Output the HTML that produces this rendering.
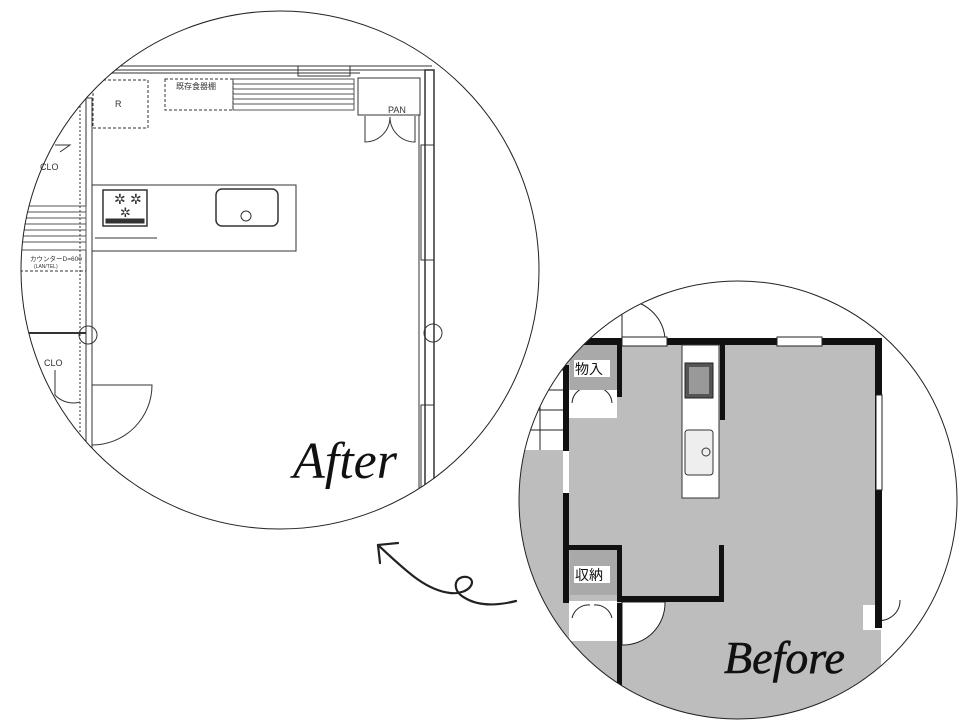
<!DOCTYPE html>
<html><head><meta charset="utf-8"><style>html,body{margin:0;padding:0;background:#fff}svg{display:block}</style></head>
<body>
<svg width="960" height="720" viewBox="0 0 960 720" xmlns="http://www.w3.org/2000/svg">
<defs>
<clipPath id="ca"><circle cx="280" cy="270" r="259"/></clipPath>
<clipPath id="cb"><circle cx="738" cy="500" r="219"/></clipPath>
</defs>

<!-- AFTER -->
<g clip-path="url(#ca)" stroke="#333" fill="none" stroke-width="1">
  <line x1="100" y1="66" x2="432" y2="66"/><line x1="100" y1="70" x2="432" y2="70"/><line x1="100" y1="73" x2="360" y2="73"/>
  <rect x="298" y="66" width="52" height="10"/>
  <rect x="425" y="70" width="9" height="470" stroke-width="1.5"/>
  <line x1="419" y1="115" x2="419" y2="540"/>
  <rect x="421" y="145" width="13" height="115"/><rect x="421" y="405" width="13" height="120"/>
  <circle cx="433" cy="333" r="9"/><circle cx="88" cy="335" r="9"/>
  <g stroke="#555">
  <rect x="233" y="79" width="121" height="31"/>
  <line x1="233" y1="84" x2="354" y2="84"/><line x1="233" y1="89" x2="354" y2="89"/><line x1="233" y1="94" x2="354" y2="94"/><line x1="233" y1="99" x2="354" y2="99"/><line x1="233" y1="104" x2="354" y2="104"/>
  </g>
  <rect x="165" y="79" width="68" height="31" stroke-dasharray="3,2"/>
  <rect x="93" y="80" width="55" height="48" stroke-dasharray="3,2"/>
  <rect x="358" y="78" width="62" height="37"/>
  <line x1="360" y1="115" x2="420" y2="115" stroke-dasharray="4,2"/>
  <path d="M365 116 V142 A25 25 0 0 0 390 117 M415 116 V142 A25 25 0 0 1 390 117"/>
  <rect x="86" y="98" width="6" height="440"/>
  <line x1="80" y1="98" x2="80" y2="540" stroke-dasharray="2,2"/>
  <rect x="92" y="185" width="204" height="66"/>
  <rect x="103" y="190" width="44" height="36" stroke-width="1.5"/>
  <rect x="106" y="219" width="38" height="4" fill="#333"/>
  <text x="114" y="204" font-size="14" fill="#333" stroke="none" font-family="DejaVu Sans">✲</text>
  <text x="130" y="204" font-size="14" fill="#333" stroke="none" font-family="DejaVu Sans">✲</text>
  <text x="120" y="217" font-size="13" fill="#333" stroke="none" font-family="DejaVu Sans">✲</text>
  <rect x="216" y="189" width="62" height="37" rx="6" stroke-width="1.5"/>
  <circle cx="246" cy="216" r="5"/>
  <line x1="95" y1="238" x2="157" y2="238"/>
  <g stroke="#555"><rect x="20" y="206" width="66" height="44"/>
  <line x1="20" y1="212" x2="86" y2="212"/><line x1="20" y1="218" x2="86" y2="218"/><line x1="20" y1="224" x2="86" y2="224"/><line x1="20" y1="230" x2="86" y2="230"/><line x1="20" y1="236" x2="86" y2="236"/><line x1="20" y1="242" x2="86" y2="242"/></g>
  <line x1="20" y1="271" x2="86" y2="271" stroke-dasharray="3,2"/>
  <line x1="20" y1="333" x2="86" y2="333" stroke-width="2"/>
  <path d="M92 385 H152 A60 60 0 0 1 92 445"/>
  <path d="M55 370 V395 A25 25 0 0 0 80 402"/>
  <path d="M55 145 L70 145 L60 152"/>
</g>
<g font-family="Liberation Sans, Noto Sans CJK JP, sans-serif" fill="#333">
  <text x="176" y="89" font-size="8">既存食器棚</text>
  <text x="115" y="107" font-size="9">R</text>
  <text x="388" y="113" font-size="9">PAN</text>
  <text x="40" y="170" font-size="9">CLO</text>
  <text x="44" y="366" font-size="9">CLO</text>
  <text x="30" y="261" font-size="6.5">カウンターD=600</text>
  <text x="34" y="268" font-size="5">(LAN/TEL)</text>
</g>
<circle cx="280" cy="270" r="259" fill="none" stroke="#222" stroke-width="1"/>
<text x="293" y="478" font-family="Liberation Serif, serif" font-style="italic" font-size="52" fill="#111">After</text>

<!-- BEFORE -->
<g clip-path="url(#cb)">
  <rect x="500" y="270" width="480" height="460" fill="#bdbdbd"/>
  <rect x="500" y="270" width="480" height="68" fill="#fff"/>
  <rect x="881" y="270" width="100" height="460" fill="#fff"/>
  <rect x="500" y="338" width="63" height="112" fill="#fff"/>
  <g stroke="#222" fill="none"><line x1="520" y1="370" x2="563" y2="370"/><line x1="520" y1="390" x2="563" y2="390"/><line x1="520" y1="410" x2="563" y2="410"/><line x1="520" y1="430" x2="563" y2="430"/><line x1="540" y1="370" x2="540" y2="450"/></g>
  <rect x="569" y="390" width="48" height="28" fill="#fff"/>
  <rect x="569" y="601" width="48" height="40" fill="#fff"/>
  <path d="M622 602 V645 A42 42 0 0 0 665 602 Z" fill="#fff" stroke="#222"/>
  <path d="M622 338 V300 A42 42 0 0 1 665 338 Z" fill="#fff" stroke="#222"/>
  <path d="M572 403 A17 17 0 0 1 590 387 M612 403 A17 17 0 0 0 594 387 M572 618 A17 17 0 0 1 590 605 M612 618 A17 17 0 0 0 594 605" stroke="#222" fill="none"/>
  <rect x="863" y="605" width="18" height="25" fill="#fff"/>
  <path d="M876 602 V620 A20 20 0 0 0 900 600" stroke="#222" fill="none"/>
  <g fill="#111">
    <rect x="567" y="338" width="314" height="7"/>
    <rect x="875" y="338" width="7" height="290"/>
    <rect x="563" y="365" width="6" height="86"/>
    <rect x="563" y="493" width="6" height="110"/>
    <rect x="617" y="340" width="5" height="57"/>
    <rect x="720" y="345" width="5" height="75"/>
    <rect x="565" y="545" width="57" height="5"/>
    <rect x="617" y="545" width="5" height="57"/>
    <rect x="617" y="596" width="107" height="6"/>
    <rect x="719" y="545" width="5" height="57"/>
    <rect x="617" y="603" width="5" height="110"/>
  </g>
  <rect x="622" y="337" width="45" height="9" fill="#fff" stroke="#222"/>
  <rect x="777" y="337" width="45" height="9" fill="#fff" stroke="#222"/>
  <rect x="876" y="395" width="6" height="95" fill="#fff" stroke="#222"/>
  <rect x="563" y="451" width="6" height="42" fill="#fff"/>
  <rect x="570" y="345" width="47" height="45" fill="#a9a9a9"/>
  <rect x="570" y="550" width="47" height="45" fill="#a9a9a9"/>
  <rect x="682" y="345" width="37" height="153" fill="#fff" stroke="#333"/>
  <rect x="685" y="363" width="28" height="35" fill="#555" stroke="#222"/>
  <rect x="689" y="367" width="20" height="27" fill="#999"/>
  <rect x="685" y="430" width="28" height="45" rx="3" fill="#eee" stroke="#333"/>
  <circle cx="706" cy="452" r="4" fill="none" stroke="#333"/>
</g>
<g font-family="Liberation Sans, Noto Sans CJK JP, sans-serif" font-size="14" fill="#111">
  <rect x="574" y="360" width="36" height="17" fill="#fff"/>
  <text x="575" y="374">物入</text>
  <rect x="574" y="566" width="36" height="17" fill="#fff"/>
  <text x="575" y="580">収納</text>
</g>
<circle cx="738" cy="500" r="219" fill="none" stroke="#222" stroke-width="1"/>
<text x="724" y="673" font-family="Liberation Serif, serif" font-style="italic" font-size="46" fill="#111" stroke="#111" stroke-width="0.6">Before</text>

<path d="M516 601 C500 605 480 607 465 598 C450 590 455 575 467 577 C478 580 470 595 450 593 C425 590 405 570 378 545" fill="none" stroke="#222" stroke-width="2.2" stroke-linecap="round"/>
<path d="M378 545 L380 563 M378 545 L398 543" fill="none" stroke="#222" stroke-width="2.2" stroke-linecap="round"/>
</svg>
</body></html>
